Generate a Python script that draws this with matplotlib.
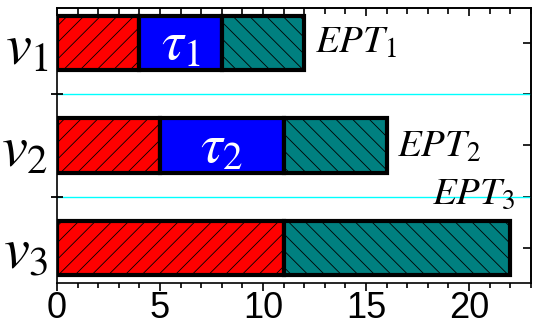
import matplotlib
matplotlib.use("Agg")
import matplotlib.pyplot as plt
from matplotlib.ticker import MultipleLocator

plt.rcParams['mathtext.fontset'] = 'stix'
plt.rcParams['font.family'] = 'Liberation Sans'
plt.rcParams['hatch.linewidth'] = 0.6

# jobs on each vehicle: red segment, blue (waiting tau), teal segment
rows = [3, 2, 1]
row_labels = [r'$v_1$', r'$v_2$', r'$v_3$']
red_len = [4, 5, 11]
blue_len = [4, 6, 0]
teal_len = [4, 5, 11]
tau_labels = [r'$\tau_1$', r'$\tau_2$', '']
ept_labels = [r'$EPT_1$', r'$EPT_2$', r'$EPT_3$']

fig = plt.figure(figsize=(5.39, 3.27), dpi=100)
ax = fig.add_axes([0.1058, 0.1346, 0.985 - 0.1058, 0.9755 - 0.1346])

bar_h = 0.53
edge_w = 3.0
for y, r, b, t in zip(rows, red_len, blue_len, teal_len):
    ax.barh(y, r, left=0, height=bar_h, color='#FF0000', edgecolor='black',
            linewidth=edge_w, hatch='//', zorder=3)
    if b > 0:
        ax.barh(y, b, left=r, height=bar_h, color='#0000FF', edgecolor='black',
                linewidth=edge_w, zorder=3)
    ax.barh(y, t, left=r + b, height=bar_h, color='#008080', edgecolor='black',
            linewidth=edge_w, hatch='\\\\', zorder=3)

# tau labels in the middle of the blue blocks
for y, r, b, lab in zip(rows, red_len, blue_len, tau_labels):
    if b > 0:
        ax.text(r + b / 2, y - 0.03, lab, color='white', fontsize=40,
                ha='center', va='center', zorder=4)

# EPT labels after each bar
ept_x = [12.5, 16.5, 18.2]
ept_y = [2.9, 1.89, 1.43]
for x, y, lab in zip(ept_x, ept_y, ept_labels):
    ax.text(x, y, lab, fontsize=28, ha='left', va='baseline', zorder=4)

# separators between vehicles
for yy in [1.5, 2.5]:
    ax.axhline(yy, color='#00FFFF', linewidth=1.0, zorder=1)

ax.set_xlim(0, 23)
ax.set_ylim(0.66, 3.34)

ax.xaxis.set_major_locator(MultipleLocator(5))
ax.xaxis.set_minor_locator(MultipleLocator(1))
ax.tick_params(axis='x', which='major', direction='out', length=6, width=1.2,
               labelsize=26, pad=0)
ax.tick_params(axis='x', which='minor', direction='out', length=3.5, width=1.2)

ax.set_yticks([1.5, 2.5])
ax.set_yticks(rows, row_labels, minor=True)
ax.tick_params(axis='y', which='major', direction='inout', length=9, width=1.3,
               labelleft=False, right=False)
ax.tick_params(axis='y', which='minor', left=False, right=False,
               labelsize=42, pad=4)

# top and right axes with inward ticks
top = ax.secondary_xaxis('top')
top.xaxis.set_major_locator(MultipleLocator(5))
top.xaxis.set_minor_locator(MultipleLocator(1))
top.tick_params(which='major', direction='in', length=6, width=1.2, labeltop=False)
top.tick_params(which='minor', direction='in', length=4, width=1.2)

right = ax.secondary_yaxis('right')
right.set_yticks([1, 1.5, 2, 2.5, 3])
right.tick_params(direction='in', length=6, width=1.2, labelright=False)

for sp in list(ax.spines.values()) + [top.spines['top'], right.spines['right']]:
    sp.set_linewidth(1.2)

fig.savefig('out.png', dpi=100)
